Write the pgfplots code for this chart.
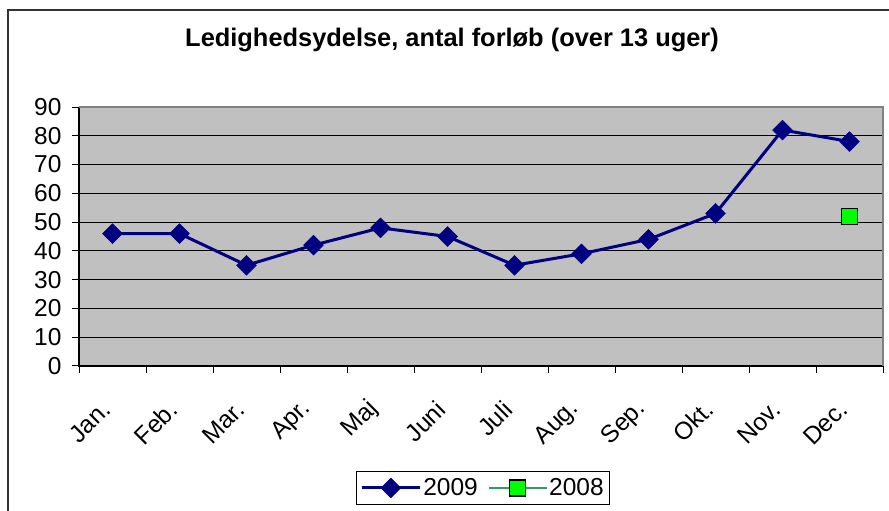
\documentclass[border=0pt]{standalone}
\usepackage{fontspec}
\setmainfont{Liberation Sans}
\usepackage{pgfplots}
\pgfplotsset{compat=1.18}

\definecolor{plotgray}{HTML}{C0C0C0}
\definecolor{navyline}{HTML}{000080}
\definecolor{brightgreen}{HTML}{00FF00}
\definecolor{legendgreen}{HTML}{339966}

\begin{document}
\begin{tikzpicture}
\useasboundingbox (0,0) rectangle (889pt,511pt);
% chart frame (only left and top edges are visible)
\draw[black!80, line width=1.5pt] (8pt,-5pt) -- (8pt,501pt) -- (895pt,501pt);
\node[font=\bfseries\fontsize{25.4}{30}\selectfont] at (452pt,471pt)
  {Ledighedsydelse, antal forløb (over 13 uger)};

\begin{axis}[
  at={(79pt,145pt)}, anchor=south west,
  scale only axis, width=804pt, height=259pt,
  xmin=-0.5, xmax=11.5, ymin=0, ymax=90,
  ytick={0,10,...,90},
  xtick={0,...,11},
  xticklabels={Jan.,Feb.,Mar.,Apr.,Maj,Juni,Juli,Aug.,Sep.,Okt.,Nov.,Dec.},
  minor xtick={-0.5,0.5,...,11.5},
  xtick pos=bottom, ytick pos=left,
  major x tick style={draw=none},
  tick align=outside,
  major tick length=7pt, minor tick length=7pt,
  tick style={black, line width=1pt},
  ymajorgrids, grid style={black, line width=1.1pt},
  axis background/.style={fill=plotgray},
  axis line style={draw=none},
  ticklabel style={font=\fontsize{24.5}{29}\selectfont},
  /pgf/number format/assume math mode=true,
  yticklabel style={xshift=-7pt},
  xticklabel style={xshift=-4pt, yshift=-30pt, rotate=45, anchor=east},
  legend style={at={(0.5025,-0.471)}, anchor=center, draw=black, line width=0.8pt,
    legend columns=2, font=\fontsize{24.5}{29}\selectfont,
    /tikz/every even column/.append style={column sep=8pt},
    inner ysep=5pt, inner xsep=4pt},
  legend image code/.code={\draw[mark repeat=2,mark phase=2,#1]
    plot coordinates {(0pt,0pt) (29pt,0pt) (58pt,0pt)};},
  clip=false,
]
\addplot[navyline, line width=3pt, mark=square*,
  mark options={rotate=45, solid, line width=0.5pt, fill=navyline}, mark size=7pt]
  coordinates {(0,46) (1,46) (2,35) (3,42) (4,48) (5,45) (6,35) (7,39) (8,44) (9,53) (10,82) (11,78)};
\addlegendentry{2009}
\addplot[legendgreen, line width=1.3pt, mark=square*,
  mark options={draw=black, fill=brightgreen, line width=1.3pt}, mark size=8pt]
  coordinates {(11,52)};
\addlegendentry{2008}
\draw[black, line width=1.3pt] (rel axis cs:0,1) -- (rel axis cs:0,0) -- (rel axis cs:1,0);
\draw[gray, line width=1.3pt] (rel axis cs:0,1) -- (rel axis cs:1,1) -- (rel axis cs:1,0);
\end{axis}
\end{tikzpicture}
\end{document}
